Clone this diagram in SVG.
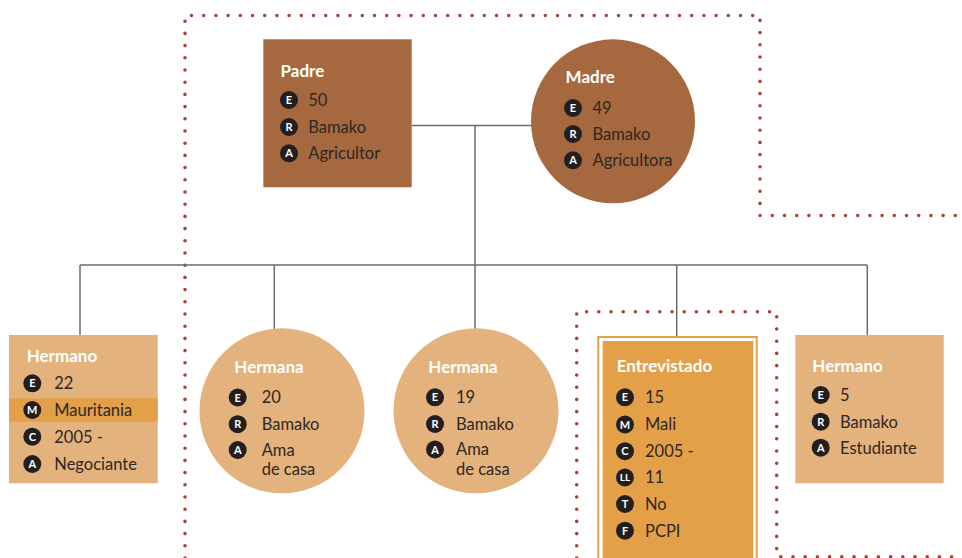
<svg xmlns="http://www.w3.org/2000/svg" width="962" height="558" viewBox="0 0 962 558">
<style>
.dot{fill:none;stroke:#A8433B;stroke-width:3.6;stroke-linecap:round;stroke-dasharray:0 12.2}
.con{fill:none;stroke:#6B6B6B;stroke-width:1.5}
.brown{fill:#A5683F}
.tan{fill:#E3B27D}
.orange{fill:#E4A048}
.title{font-family:Lato,"Open Sans","Liberation Sans",sans-serif;font-weight:bold;font-size:17px;fill:#FFFFFF}
.txt{font-family:Lato,"Open Sans","Liberation Sans",sans-serif;font-size:16.5px;fill:#2E2724}
.ic{fill:#231F20}
.il{font-family:Lato,"Liberation Sans",sans-serif;font-weight:bold;font-size:11px;fill:#FFFFFF;text-anchor:middle}
</style>
<g id="frames">
<path class="dot" d="M185,558 V15.5 H760 V215.5 H962"/>
<path class="dot" d="M576.7,558 V311.7 H776.7 V556.7 H962"/>
</g>
<g id="connectors">
<line class="con" x1="412" y1="125.5" x2="532" y2="125.5"/>
<line class="con" x1="475" y1="125.5" x2="475" y2="329"/>
<line class="con" x1="80" y1="265" x2="867.3" y2="265"/>
<line class="con" x1="80" y1="265" x2="80" y2="335"/>
<line class="con" x1="274.3" y1="265" x2="274.3" y2="329"/>
<line class="con" x1="676.7" y1="265" x2="676.7" y2="336"/>
<line class="con" x1="867.3" y1="265" x2="867.3" y2="335"/>
</g>
<g id="padre">
<rect class="brown" x="263.3" y="39.3" width="148.4" height="148"/>
<text class="title" x="280.5" y="77">Padre</text>
<circle class="ic" cx="289" cy="100" r="9"/><text class="il" x="289" y="104">E</text>
<text class="txt" x="308.3" y="105.8">50</text>
<circle class="ic" cx="289" cy="127" r="9"/><text class="il" x="289" y="131">R</text>
<text class="txt" x="308.3" y="132.8">Bamako</text>
<circle class="ic" cx="289" cy="153.3" r="9"/><text class="il" x="289" y="157.3">A</text>
<text class="txt" x="308.3" y="159.1">Agricultor</text>
</g>
<g id="madre">
<circle class="brown" cx="613" cy="121.3" r="82"/>
<text class="title" x="565.6" y="83.3">Madre</text>
<circle class="ic" cx="573" cy="108" r="9"/><text class="il" x="573" y="112">E</text>
<text class="txt" x="592.5" y="113.8">49</text>
<circle class="ic" cx="573" cy="134" r="9"/><text class="il" x="573" y="138">R</text>
<text class="txt" x="592.5" y="139.8">Bamako</text>
<circle class="ic" cx="573" cy="160.3" r="9"/><text class="il" x="573" y="164.3">A</text>
<text class="txt" x="592.5" y="166.1">Agricultora</text>
</g>
<g id="hermano1">
<rect class="tan" x="9" y="335" width="148.7" height="148.3"/>
<rect class="orange" x="9" y="398.3" width="148.7" height="23.4"/>
<text class="title" x="26.7" y="362.3">Hermano</text>
<circle class="ic" cx="32.3" cy="383.3" r="9"/><text class="il" x="32.3" y="387.3">E</text>
<text class="txt" x="54.3" y="389.1">22</text>
<circle class="ic" cx="32.3" cy="410" r="9"/><text class="il" x="32.3" y="414">M</text>
<text class="txt" x="54.3" y="415.8">Mauritania</text>
<circle class="ic" cx="32.3" cy="436.7" r="9"/><text class="il" x="32.3" y="440.7">C</text>
<text class="txt" x="54.3" y="442.5">2005 -</text>
<circle class="ic" cx="32.3" cy="464" r="9"/><text class="il" x="32.3" y="468">A</text>
<text class="txt" x="54.3" y="469.8">Negociante</text>
</g>
<g id="hermana1">
<circle class="tan" cx="282" cy="410.8" r="82.5"/>
<text class="title" x="234.3" y="373.3">Hermana</text>
<circle class="ic" cx="237.7" cy="397.5" r="9"/><text class="il" x="237.7" y="401.5">E</text>
<text class="txt" x="261.7" y="403.3">20</text>
<circle class="ic" cx="237.7" cy="424.2" r="9"/><text class="il" x="237.7" y="428.2">R</text>
<text class="txt" x="261.7" y="430">Bamako</text>
<circle class="ic" cx="237.7" cy="450" r="9"/><text class="il" x="237.7" y="454">A</text>
<text class="txt" x="261.7" y="455.8">Ama</text>
<text class="txt" x="261.7" y="475">de casa</text>
</g>
<g id="hermana2">
<circle class="tan" cx="476" cy="410.8" r="82.5"/>
<text class="title" x="428.3" y="373.3">Hermana</text>
<circle class="ic" cx="435" cy="397.3" r="9"/><text class="il" x="435" y="401.3">E</text>
<text class="txt" x="456" y="403.1">19</text>
<circle class="ic" cx="435" cy="424" r="9"/><text class="il" x="435" y="428">R</text>
<text class="txt" x="456" y="429.8">Bamako</text>
<circle class="ic" cx="435" cy="449.5" r="9"/><text class="il" x="435" y="453.5">A</text>
<text class="txt" x="456" y="455.3">Ama</text>
<text class="txt" x="456" y="474.8">de casa</text>
</g>
<g id="entrevistado">
<rect class="orange" x="597.3" y="336" width="160.4" height="230"/>
<rect x="599.3" y="338" width="156.4" height="230" fill="#FFFFFF"/>
<rect class="orange" x="602.7" y="341" width="150.6" height="230"/>
<text class="title" x="616.7" y="371.7">Entrevistado</text>
<circle class="ic" cx="625" cy="397.3" r="9"/><text class="il" x="625" y="401.3">E</text>
<text class="txt" x="645" y="403.1">15</text>
<circle class="ic" cx="625" cy="424.5" r="9"/><text class="il" x="625" y="428.5">M</text>
<text class="txt" x="645" y="430.3">Mali</text>
<circle class="ic" cx="625" cy="451.2" r="9"/><text class="il" x="625" y="455.2">C</text>
<text class="txt" x="645" y="457">2005 -</text>
<circle class="ic" cx="625" cy="477.5" r="9"/><text class="il" x="625" y="481.2" style="font-size:10px">LL</text>
<text class="txt" x="645" y="483.3">11</text>
<circle class="ic" cx="625" cy="504" r="9"/><text class="il" x="625" y="508">T</text>
<text class="txt" x="645" y="509.8">No</text>
<circle class="ic" cx="625" cy="530.7" r="9"/><text class="il" x="625" y="534.7">F</text>
<text class="txt" x="645" y="536.5">PCPI</text>
</g>
<g id="hermano5">
<rect class="tan" x="795.3" y="335" width="148.4" height="148.3"/>
<text class="title" x="812.3" y="371.7">Hermano</text>
<circle class="ic" cx="820.7" cy="395" r="9"/><text class="il" x="820.7" y="399">E</text>
<text class="txt" x="840" y="400.8">5</text>
<circle class="ic" cx="820.7" cy="421.7" r="9"/><text class="il" x="820.7" y="425.7">R</text>
<text class="txt" x="840" y="427.5">Bamako</text>
<circle class="ic" cx="820.7" cy="447.7" r="9"/><text class="il" x="820.7" y="451.7">A</text>
<text class="txt" x="840" y="453.5">Estudiante</text>
</g>
</svg>
